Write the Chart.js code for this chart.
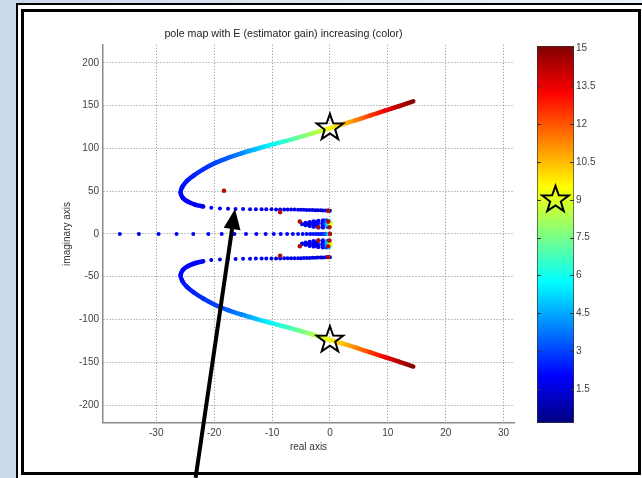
<!DOCTYPE html>
<html>
<head>
<meta charset="utf-8">
<title>pole map</title>
<script src="https://cdn.jsdelivr.net/npm/chart.js@4/dist/chart.umd.min.js"></script>
<style>
  html, body { margin: 0; padding: 0; }
  body {
    width: 642px; height: 478px; position: relative; overflow: hidden;
    background: linear-gradient(to right, #c9d8ea 0%, #dce6f2 45%, #eef3f9 100%);
  }
  .frame-outer {
    position: absolute; left: 16px; top: 3px; width: 640px; height: 473px;
    border-left: 2px solid #000; border-top: 2px solid #000; background: #fff;
  }
  .frame-inner {
    position: absolute; left: 21px; top: 9px; width: 614px; height: 460px;
    border: 3px solid #000; background: #fff;
  }
  canvas { position: absolute; top: 0; }
  #pole-map { left: 0; z-index: 2; }
  #gain-bar { left: 520px; z-index: 1; }
</style>
</head>
<body>
<div class="frame-outer"></div>
<div class="frame-inner"></div>
<canvas id="gain-bar" width="122" height="478"></canvas>
<canvas id="pole-map" width="642" height="478"></canvas>
<script>
// Estimator gain E range on the colour bar
const gainMin = 0.15;
const gainMax = 15.1;
const gainTicks = [1.5, 3, 4.5, 6, 7.5, 9, 10.5, 12, 13.5, 15];
const xTicks = [-30, -20, -10, 0, 10, 20, 30];
const yTicks = [-200, -150, -100, -50, 0, 50, 100, 150, 200];

// poles as [real, imag, E]
const realAxisPoles = [
  [-36.3, 0, 1.6], [-33.0, 0, 1.6], [-29.6, 0, 1.7], [-26.5, 0, 1.7], [-23.6, 0, 1.7],
  [-21.0, 0, 1.8], [-18.7, 0, 1.8], [-16.5, 0, 1.8], [-14.5, 0, 1.9], [-12.7, 0, 1.9],
  [-11.1, 0, 1.9], [-9.7, 0, 2.0], [-8.5, 0, 2.0], [-7.4, 0, 2.0], [-6.4, 0, 2.1],
  [-5.5, 0, 2.1], [-4.7, 0, 2.1], [-4.0, 0, 2.2], [-3.4, 0, 2.2], [-2.9, 0, 2.3],
  [-2.4, 0, 2.3], [-2.0, 0, 2.4], [-1.6, 0, 2.5], [-1.3, 0, 2.6], [-1.0, 0, 2.8],
  [-0.7, 0, 3.2], [-0.45, 0, 4.0], [-0.25, 0, 5.5], [-0.1, 0, 7.5], [0, 0, 10]
];

const upperRowPoles = [
  [-21.9, 32.0, 1.9], [-20.5, 30.6, 1.9], [-19.0, 29.8, 1.9], [-17.6, 29.4, 1.85], [-16.3, 29.2, 1.85],
  [-15.0, 29.0, 1.85], [-13.8, 28.9, 1.8], [-12.8, 28.8, 1.8], [-11.8, 28.8, 1.8], [-11.0, 28.7, 1.8],
  [-10.1, 28.7, 1.75], [-9.3, 28.6, 1.75], [-8.6, 28.6, 1.75], [-7.9, 28.5, 1.7], [-7.3, 28.5, 1.7],
  [-6.7, 28.4, 1.7], [-6.1, 28.4, 1.7], [-5.5, 28.3, 1.65], [-5.0, 28.3, 1.65], [-4.5, 28.2, 1.65],
  [-4.0, 28.1, 1.6], [-3.5, 28.0, 1.6], [-3.0, 27.9, 1.6], [-2.5, 27.8, 1.6], [-2.1, 27.7, 1.55],
  [-1.6, 27.6, 1.55], [-1.2, 27.5, 1.55], [-0.7, 27.4, 1.5], [-0.3, 27.3, 1.5], [0, 27.2, 1.5]
];

const lowerRowPoles = [
  [-21.9, -32.0, 1.9], [-20.5, -30.6, 1.9], [-19.0, -29.8, 1.9], [-17.6, -29.4, 1.85], [-16.3, -29.2, 1.85],
  [-15.0, -29.0, 1.85], [-13.8, -28.9, 1.8], [-12.8, -28.8, 1.8], [-11.8, -28.8, 1.8], [-11.0, -28.7, 1.8],
  [-10.1, -28.7, 1.75], [-9.3, -28.6, 1.75], [-8.6, -28.6, 1.75], [-7.9, -28.5, 1.7], [-7.3, -28.5, 1.7],
  [-6.7, -28.4, 1.7], [-6.1, -28.4, 1.7], [-5.5, -28.3, 1.65], [-5.0, -28.3, 1.65], [-4.5, -28.2, 1.65],
  [-4.0, -28.1, 1.6], [-3.5, -28.0, 1.6], [-3.0, -27.9, 1.6], [-2.5, -27.8, 1.6], [-2.1, -27.7, 1.55],
  [-1.6, -27.6, 1.55], [-1.2, -27.5, 1.55], [-0.7, -27.4, 1.5], [-0.3, -27.3, 1.5], [0, -27.2, 1.5]
];

const upperBranch = [
  [-21.9, 32.0, 1.9], [-23.2, 34.0, 1.95], [-24.5, 37.5, 2.0], [-25.4, 42.0, 2.05], [-25.8, 48.5, 2.1],
  [-25.5, 55.0, 2.2], [-24.7, 62.0, 2.35], [-23.5, 68.5, 2.5], [-21.9, 75.5, 2.7], [-19.8, 83.0, 3.0],
  [-17.6, 89.0, 3.4], [-15.3, 94.2, 4.0], [-12.9, 99.0, 4.8], [-10.5, 103.5, 5.6], [-8.0, 108.0, 6.4],
  [-5.5, 112.6, 7.3], [-3.0, 117.6, 8.2], [-0.5, 122.6, 9.2], [2.0, 127.8, 10.3], [4.5, 133.0, 11.3],
  [7.0, 138.5, 12.4], [9.5, 144.0, 13.4], [12.0, 149.5, 14.3], [14.4, 155.0, 15.0]
];

const lowerBranch = [
  [-21.9, -32.0, 1.9], [-23.2, -34.0, 1.95], [-24.5, -37.5, 2.0], [-25.4, -42.0, 2.05], [-25.8, -48.5, 2.1],
  [-25.5, -55.0, 2.2], [-24.7, -62.0, 2.35], [-23.5, -68.5, 2.5], [-21.9, -75.5, 2.7], [-19.8, -83.0, 3.0],
  [-17.6, -89.0, 3.4], [-15.3, -94.2, 4.0], [-12.9, -99.0, 4.8], [-10.5, -103.5, 5.6], [-8.0, -108.0, 6.4],
  [-5.5, -112.6, 7.3], [-3.0, -117.6, 8.2], [-0.5, -122.6, 9.2], [2.0, -127.8, 10.3], [4.5, -133.0, 11.3],
  [7.0, -138.5, 12.4], [9.5, -144.0, 13.4], [12.0, -149.5, 14.3], [14.4, -155.0, 15.0]
];

const upperLoop = [
  [-4.8, 11.5, 1.6], [-4.2, 12.8, 1.7], [-4.2, 10.3, 1.7], [-3.7, 11.6, 1.75], [-3.5, 13.8, 1.8],
  [-3.5, 9.4, 1.8], [-2.9, 11.8, 1.85], [-2.8, 14.6, 1.9], [-2.8, 8.5, 1.9], [-2.3, 13.5, 1.95],
  [-2.3, 10.0, 1.95], [-2.1, 12.0, 2.0], [-2.0, 15.2, 2.0], [-2.0, 7.8, 2.1], [-1.3, 12.2, 2.2],
  [-1.2, 15.6, 2.2], [-1.2, 14.0, 2.2], [-1.2, 9.6, 2.2], [-1.2, 7.6, 2.3], [-0.6, 15.6, 2.8],
  [-0.7, 12.4, 3.0], [-0.4, 8.2, 3.5], [-0.5, 13.8, 4.0], [-0.5, 10.8, 4.5], [-0.15, 15.0, 5.0],
  [-0.25, 12.0, 6.0], [0.0, 9.5, 7.0], [0.05, 13.5, 7.5], [0.1, 11.5, 9.5]
];

const lowerLoop = [
  [-4.8, -11.5, 1.6], [-4.2, -12.8, 1.7], [-4.2, -10.3, 1.7], [-3.7, -11.6, 1.75], [-3.5, -13.8, 1.8],
  [-3.5, -9.4, 1.8], [-2.9, -11.8, 1.85], [-2.8, -14.6, 1.9], [-2.8, -8.5, 1.9], [-2.3, -13.5, 1.95],
  [-2.3, -10.0, 1.95], [-2.1, -12.0, 2.0], [-2.0, -15.2, 2.0], [-2.0, -7.8, 2.1], [-1.3, -12.2, 2.2],
  [-1.2, -15.6, 2.2], [-1.2, -14.0, 2.2], [-1.2, -9.6, 2.2], [-1.2, -7.6, 2.3], [-0.6, -15.6, 2.8],
  [-0.7, -12.4, 3.0], [-0.4, -8.2, 3.5], [-0.5, -13.8, 4.0], [-0.5, -10.8, 4.5], [-0.15, -15.0, 5.0],
  [-0.25, -12.0, 6.0], [0.0, -9.5, 7.0], [0.05, -13.5, 7.5], [0.1, -11.5, 9.5]
];

// poles marked in dark red, [real, imag]
const markedPoles = [
  [-18.3, 50.5], [-8.6, 25.5], [-0.3, 27.0], [-5.2, 14.4], [-0.3, 14.4], [-2.0, 7.8], [-0.1, 7.8],
  [0, 0], [-2.0, -7.8], [-0.1, -7.8], [-5.2, -14.4], [-0.3, -14.4], [-8.6, -25.5], [-0.3, -27.0]
];

// poles at E = 9 (stars) and the arrow callout
const starPoles = [[0, 124], [0, -124]];
const starGain = 9;
const arrowFrom = [-23.2, -285];
const arrowTo = [-16.4, 29];

const FONT = "'Liberation Sans', Arial, sans-serif";

// jet colormap
function jet(v) {
  const t = Math.min(1, Math.max(0, (v - gainMin) / (gainMax - gainMin)));
  const c = k => Math.round(255 * Math.min(1, Math.max(0, 1.5 - Math.abs(4 * t - k))));
  return `rgb(${c(3)},${c(2)},${c(1)})`;
}

function dots(list, radius) {
  return {
    data: list.map(p => ({ x: p[0], y: p[1] })),
    pointRadius: radius,
    pointBackgroundColor: list.map(p => jet(p[2])),
    pointBorderWidth: 0
  };
}

function branch(list) {
  return {
    data: list.map(p => ({ x: p[0], y: p[1] })),
    showLine: true,
    pointRadius: 0,
    borderWidth: 4.5,
    tension: 0.3,
    borderCapStyle: 'round',
    borderJoinStyle: 'round',
    segment: {
      borderColor: c => {
        const g = c.chart.ctx.createLinearGradient(c.p0.x, c.p0.y, c.p1.x, c.p1.y);
        g.addColorStop(0, jet(list[c.p0DataIndex][2]));
        g.addColorStop(1, jet(list[c.p1DataIndex][2]));
        return g;
      }
    }
  };
}

function drawStar(ctx, cx, cy, R) {
  const r = R * 0.4;
  ctx.save();
  ctx.beginPath();
  for (let i = 0; i < 10; i++) {
    const a = -Math.PI / 2 + i * Math.PI / 5;
    const rad = i % 2 ? r : R;
    ctx.lineTo(cx + rad * Math.cos(a), cy + rad * Math.sin(a));
  }
  ctx.closePath();
  ctx.lineWidth = 2;
  ctx.strokeStyle = '#000';
  ctx.stroke();
  ctx.restore();
}

const overlay = {
  id: 'overlay',
  afterDraw(chart) {
    const { ctx, scales: { x, y } } = chart;
    starPoles.forEach(p => drawStar(ctx, x.getPixelForValue(p[0]), y.getPixelForValue(p[1]), 14));

    // arrow
    const x0 = x.getPixelForValue(arrowFrom[0]), y0 = y.getPixelForValue(arrowFrom[1]);
    const x1 = x.getPixelForValue(arrowTo[0]), y1 = y.getPixelForValue(arrowTo[1]);
    const ang = Math.atan2(y1 - y0, x1 - x0);
    const headLen = 20, headW = 8.5;
    const bx = x1 - headLen * Math.cos(ang), by = y1 - headLen * Math.sin(ang);
    ctx.save();
    ctx.strokeStyle = '#000';
    ctx.fillStyle = '#000';
    ctx.lineWidth = 4;
    ctx.beginPath();
    ctx.moveTo(x0, y0);
    ctx.lineTo(bx, by);
    ctx.stroke();
    ctx.beginPath();
    ctx.moveTo(x1, y1);
    ctx.lineTo(bx + headW * Math.sin(ang), by - headW * Math.cos(ang));
    ctx.lineTo(bx - headW * Math.sin(ang), by + headW * Math.cos(ang));
    ctx.closePath();
    ctx.fill();
    ctx.restore();
  }
};

const axisFont = { family: FONT, size: 10 };

new Chart(document.getElementById('pole-map'), {
  type: 'scatter',
  data: {
    datasets: [
      { data: markedPoles.map(p => ({ x: p[0], y: p[1] })), pointRadius: 2.3, pointBackgroundColor: '#a80f0f', pointBorderWidth: 0 },
      dots(upperLoop, 2.2),
      dots(lowerLoop, 2.2),
      dots(realAxisPoles, 2),
      dots(upperRowPoles, 2),
      dots(lowerRowPoles, 2),
      branch(upperBranch),
      branch(lowerBranch)
    ]
  },
  options: {
    responsive: false,
    animation: false,
    devicePixelRatio: 1,
    layout: { padding: { left: 53, right: 128, top: 19, bottom: 15 } },
    plugins: {
      legend: { display: false },
      tooltip: { enabled: false },
      title: {
        display: true,
        text: 'pole map with E (estimator gain) increasing (color)',
        color: '#222',
        font: { family: FONT, size: 10.7, weight: 'normal' },
        padding: { top: 9, bottom: 4 }
      }
    },
    scales: {
      x: {
        type: 'linear',
        min: -39.2,
        max: 31.8,
        afterBuildTicks: s => { s.ticks = xTicks.map(v => ({ value: v })); },
        afterFit: s => { s.height = 40; },
        grid: { color: '#8c8c8c', drawTicks: false },
        border: { color: '#8a8a8a', width: 1.5, dash: [1, 2] },
        ticks: { color: '#404040', font: axisFont, padding: 4, maxRotation: 0 },
        title: { display: true, text: 'real axis', color: '#333', font: axisFont, padding: { top: 0, bottom: 10 } }
      },
      y: {
        type: 'linear',
        min: -221,
        max: 221,
        afterBuildTicks: s => { s.ticks = yTicks.map(v => ({ value: v })); },
        afterFit: s => { s.width = 50; },
        grid: { color: '#8c8c8c', drawTicks: false },
        border: { color: '#8a8a8a', width: 1.5, dash: [1, 2] },
        ticks: { color: '#404040', font: axisFont, padding: 4 },
        title: { display: true, text: 'imaginary axis', color: '#333', font: axisFont, padding: { top: 8, bottom: 0 } }
      }
    }
  },
  plugins: [overlay]
});

// colour bar
const barMarks = {
  id: 'barMarks',
  afterDatasetsDraw(chart) {
    const { ctx, chartArea: a, scales: { y } } = chart;
    ctx.save();
    ctx.strokeStyle = '#333';
    ctx.lineWidth = 1;
    gainTicks.forEach(v => {
      const py = Math.round(y.getPixelForValue(v)) + 0.5;
      ctx.beginPath();
      ctx.moveTo(a.left, py); ctx.lineTo(a.left + 4, py);
      ctx.moveTo(a.right - 4, py); ctx.lineTo(a.right, py);
      ctx.stroke();
    });
    ctx.restore();
    drawStar(ctx, (a.left + a.right) / 2, y.getPixelForValue(starGain), 14);
  }
};

new Chart(document.getElementById('gain-bar'), {
  type: 'bar',
  data: {
    labels: ['E'],
    datasets: [{
      data: [[gainMin, gainMax]],
      backgroundColor: c => {
        const { ctx, chartArea, scales } = c.chart;
        if (!chartArea) return null;
        const g = ctx.createLinearGradient(0, scales.y.getPixelForValue(gainMin), 0, scales.y.getPixelForValue(gainMax));
        for (let i = 0; i <= 16; i++) {
          g.addColorStop(i / 16, jet(gainMin + (gainMax - gainMin) * i / 16));
        }
        return g;
      },
      borderColor: '#333',
      borderWidth: 1,
      borderSkipped: false,
      barPercentage: 1,
      categoryPercentage: 1
    }]
  },
  options: {
    responsive: false,
    animation: false,
    devicePixelRatio: 1,
    layout: { padding: { left: 17, right: 0, top: 46, bottom: 55 } },
    plugins: { legend: { display: false }, tooltip: { enabled: false } },
    scales: {
      x: { display: false },
      y: {
        position: 'right',
        min: gainMin,
        max: gainMax,
        afterBuildTicks: s => { s.ticks = gainTicks.map(v => ({ value: v })); },
        afterFit: s => { s.width = 68; },
        grid: { display: false, drawTicks: false },
        border: { display: false },
        ticks: { color: '#404040', font: axisFont, padding: 2 }
      }
    }
  },
  plugins: [barMarks]
});
</script>
</body>
</html>
